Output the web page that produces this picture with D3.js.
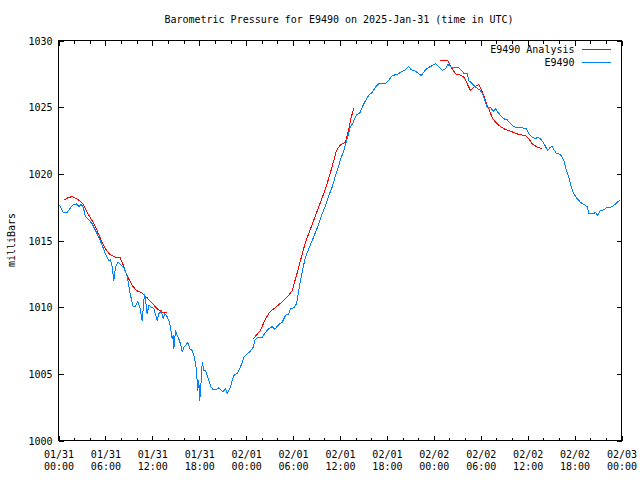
<!DOCTYPE html>
<html>
<head>
<meta charset="utf-8">
<script src="https://cdn.jsdelivr.net/npm/d3@7"></script>
<style>
  html, body { margin: 0; padding: 0; background: #fff; }
  svg { display: block; }
  text { font-family: "DejaVu Sans Mono", "Liberation Mono", monospace; font-size: 10px; fill: #000; }
</style>
</head>
<body>
<svg id="chart" width="640" height="480"></svg>
<script>
// ---- Data (hours since 2025-01-31 00:00 UTC, pressure in millibars) ----
const title = "Barometric Pressure for E9490 on 2025-Jan-31 (time in UTC)";
const yLabel = "milliBars";
const seriesNames = ["E9490 Analysis", "E9490"];
const yTicks = [1000, 1005, 1010, 1015, 1020, 1025, 1030];

const obsHours = [0.13,0.60,1.11,1.75,2.30,2.60,2.90,3.16,3.45,3.87,4.31,4.73,5.15,5.59,6.01,6.43,6.65,6.87,7.07,7.29,
  7.63,7.93,8.35,8.70,8.99,9.21,9.55,9.85,10.14,10.40,10.70,11.00,11.13,11.34,11.55,12.19,12.62,12.83,13.13,13.39,
  13.56,13.81,14.11,14.32,14.54,14.67,14.75,14.96,15.18,15.38,15.60,15.82,16.02,16.24,16.54,16.79,17.10,17.39,17.65,17.81,
  17.94,18.07,18.25,18.38,18.58,18.80,19.02,19.22,19.53,19.78,20.08,20.50,20.81,21.06,21.36,21.57,21.78,22.00,22.21,22.42,
  22.85,23.19,23.49,23.70,24.04,24.55,24.90,25.10,25.41,26.05,26.38,26.89,27.33,27.66,28.17,28.61,29.03,29.45,29.67,30.09,
  30.44,30.73,30.95,31.29,31.59,32.01,32.44,32.87,33.29,33.72,34.15,34.57,35.00,35.42,35.85,36.06,36.49,36.92,37.25,37.69,
  38.11,38.53,38.84,39.26,39.68,40.12,40.54,40.96,41.82,42.37,42.68,43.32,43.74,44.25,44.80,45.11,45.53,46.08,46.39,46.72,
  47.06,47.57,48.21,48.63,49.07,49.49,49.79,50.35,51.19,51.63,51.92,52.27,52.47,52.91,53.33,53.63,53.97,54.31,54.61,54.82,
  55.25,55.59,55.89,56.18,56.53,56.95,57.38,57.80,58.23,58.74,59.30,59.85,60.15,60.58,61.00,61.30,61.64,61.99,62.28,62.58,
  62.83,63.14,63.43,63.69,63.98,64.29,64.62,64.97,65.26,65.57,65.90,66.33,66.76,67.18,67.61,67.82,68.38,68.67,68.97,69.31,
  69.74,70.17,70.59,71.02,71.45,71.87];
const obsPressure = [1017.63,1017.12,1017.12,1017.63,1017.75,1017.55,1017.70,1017.50,1016.80,1016.55,1016.25,1015.75,1015.25,1014.63,1014.00,1013.50,1013.55,1013.00,1011.95,1013.00,
  1013.37,1013.20,1012.95,1012.50,1011.63,1010.88,1010.05,1010.05,1010.45,1010.00,1009.00,1011.00,1010.50,1009.50,1010.13,1009.88,1009.00,1009.50,1009.70,1009.13,
  1009.50,1009.38,1009.00,1008.50,1007.63,1007.88,1006.88,1008.25,1007.88,1007.63,1007.25,1006.62,1007.00,1007.13,1007.37,1006.88,1006.75,1006.25,1005.25,1003.75,
  1004.50,1003.00,1004.50,1005.87,1005.25,1005.25,1004.88,1004.50,1004.00,1003.80,1003.80,1003.95,1003.75,1003.67,1003.88,1003.50,1003.75,1004.00,1004.50,1004.88,
  1005.05,1005.38,1005.87,1006.25,1006.45,1006.70,1007.00,1007.50,1007.70,1007.70,1008.05,1008.38,1008.55,1008.33,1008.70,1008.87,1009.38,1009.50,1009.88,1009.95,
  1010.25,1011.25,1012.00,1013.00,1013.75,1014.38,1015.00,1015.62,1016.25,1017.00,1017.63,1018.38,1019.00,1019.88,1020.63,1021.05,1021.75,1022.63,1023.38,1023.87,
  1024.45,1024.55,1025.00,1025.50,1025.88,1026.12,1026.50,1026.75,1026.75,1027.13,1027.38,1027.45,1027.62,1027.75,1028.05,1027.80,1027.75,1027.50,1027.38,1027.62,
  1027.88,1028.05,1028.25,1028.05,1027.75,1027.88,1028.20,1027.95,1027.95,1027.71,1027.49,1027.53,1027.00,1026.75,1026.50,1026.38,1026.25,1025.88,1025.37,1025.00,
  1025.00,1024.70,1024.88,1024.62,1024.38,1024.13,1024.05,1023.75,1023.55,1023.45,1023.45,1023.38,1023.00,1022.75,1022.63,1022.75,1022.63,1022.37,1022.05,1021.75,
  1021.95,1022.05,1021.75,1021.50,1021.50,1021.38,1021.00,1020.25,1019.75,1019.00,1018.50,1018.13,1017.87,1017.70,1017.55,1017.00,1017.00,1017.12,1016.88,1017.25,
  1017.30,1017.50,1017.50,1017.63,1017.87,1018.05];

// Analysis series, three separate runs
const anaHours1 = [0.77,1.19,1.75,2.30,2.81,3.16,3.58,4.09,4.60,5.03,5.46,6.01,6.56,7.29,7.84,8.15,8.44,8.86,9.43,9.97,10.70,11.34,11.98,12.62,13.26,13.81];
const anaPress1 = [1018.05,1018.20,1018.30,1018.13,1017.95,1017.70,1017.20,1016.70,1016.20,1015.62,1015.00,1014.38,1013.95,1013.75,1013.75,1013.37,1012.88,1012.25,1011.63,1011.25,1011.05,1010.70,1010.30,1009.88,1009.63,1009.58];
const anaHours2 = [24.90,25.83,26.47,27.02,27.53,28.30,29.03,29.58,29.89,30.31,30.73,31.17,31.59,32.23,32.87,33.51,34.15,34.79,35.21,35.55,36.06,36.70,36.99,37.34,37.76];
const anaPress2 = [1007.63,1008.25,1009.13,1009.63,1009.88,1010.25,1010.63,1011.00,1011.25,1012.13,1013.00,1014.00,1014.87,1015.88,1016.88,1017.87,1018.88,1020.12,1021.00,1021.75,1022.18,1022.37,1023.00,1024.00,1024.95];
const anaHours3 = [48.76,49.79,50.22,50.77,51.50,51.92,52.27,52.69,53.11,53.75,54.06,54.39,54.74,55.16,55.47,55.89,56.31,56.95,57.80,58.44,58.87,59.72,60.15,60.58,61.22,61.86];
const anaPress3 = [1028.48,1028.48,1028.00,1027.50,1027.38,1027.20,1026.75,1026.25,1026.50,1026.70,1026.30,1025.88,1025.25,1024.70,1024.20,1023.87,1023.63,1023.38,1023.20,1023.05,1022.95,1022.88,1022.63,1022.25,1022.00,1021.88];

// ---- Layout ----
const L = 58, R = 621, T = 40, B = 440;
const t0 = Date.UTC(2025, 0, 31, 0);
const toDate = h => new Date(t0 + h * 3600e3);

const svg = d3.select("#chart");
const g = svg.append("g").attr("transform", "translate(0.5,0.5)");

const x = d3.scaleUtc().domain([toDate(0), toDate(72)]).range([L, R]);
const y = d3.scaleLinear().domain([1000, 1030]).range([B, T]);

const majorTicks = d3.range(0, 73, 6).map(toDate);
const minorTicks = d3.range(0, 73, 2).filter(h => h % 6 !== 0).map(toDate);
const fmtDate = d3.utcFormat("%m/%d");
const fmtTime = d3.utcFormat("%H:%M");

// Bottom axis (major, with labels)
const xb = g.append("g").attr("transform", `translate(0,${B})`)
  .call(d3.axisBottom(x).tickValues(majorTicks).tickSizeInner(-5).tickSizeOuter(0).tickPadding(0).tickFormat(d => ""));
xb.select(".domain").remove();
xb.selectAll(".tick text").each(function(d) {
  const t = d3.select(this).attr("y", 0).attr("dy", null);
  t.append("tspan").attr("x", 0).attr("y", 17).text(fmtDate(d));
  t.append("tspan").attr("x", 0).attr("y", 29).text(fmtTime(d));
});
// Bottom minor
const xbm = g.append("g").attr("transform", `translate(0,${B})`)
  .call(d3.axisBottom(x).tickValues(minorTicks).tickSizeInner(-3).tickSizeOuter(0).tickFormat(""));
xbm.select(".domain").remove();
// Top mirror
const xt = g.append("g").attr("transform", `translate(0,${T})`)
  .call(d3.axisTop(x).tickValues(majorTicks).tickSizeInner(-5).tickSizeOuter(0).tickFormat(""));
xt.select(".domain").remove();
const xtm = g.append("g").attr("transform", `translate(0,${T})`)
  .call(d3.axisTop(x).tickValues(minorTicks).tickSizeInner(-3).tickSizeOuter(0).tickFormat(""));
xtm.select(".domain").remove();

// Left axis
const yl = g.append("g").attr("transform", `translate(${L},0)`)
  .call(d3.axisLeft(y).tickValues(yTicks).tickSizeInner(-5).tickSizeOuter(0).tickPadding(6).tickFormat(d3.format("d")));
yl.select(".domain").remove();
yl.selectAll(".tick text").attr("dy", "0.35em");
// Right mirror
const yr = g.append("g").attr("transform", `translate(${R},0)`)
  .call(d3.axisRight(y).tickValues(yTicks).tickSizeInner(-5).tickSizeOuter(0).tickFormat(""));
yr.select(".domain").remove();

g.selectAll(".tick line").attr("stroke", "#000").attr("shape-rendering", "crispEdges");
g.selectAll(".tick text").attr("fill", "#000")
  .style("font-family", '"DejaVu Sans Mono", monospace').style("font-size", "10px");

// Frame
g.append("rect").attr("x", L).attr("y", T).attr("width", R - L).attr("height", B - T)
  .attr("fill", "none").attr("stroke", "#000").attr("shape-rendering", "crispEdges");

// Lines
const line = d3.line().x(d => x(toDate(d[0]))).y(d => y(d[1]));
const zip = (a, b) => a.map((v, i) => [v, b[i]]);

const plot = g.append("g");
[[anaHours1, anaPress1], [anaHours2, anaPress2], [anaHours3, anaPress3]].forEach(([h, p]) => {
  plot.append("path").datum(zip(h, p)).attr("d", line)
    .attr("fill", "none").attr("stroke", "#ff0000").attr("stroke-width", 1)
    .attr("shape-rendering", "crispEdges");
});
plot.append("path").datum(zip(obsHours, obsPressure)).attr("d", line)
  .attr("fill", "none").attr("stroke", "#0080ff").attr("stroke-width", 1)
  .attr("shape-rendering", "crispEdges");

// Legend
const legend = g.append("g");
const legColors = ["#ff0000", "#0080ff"];
seriesNames.forEach((name, i) => {
  const ly = 49 + i * 13;
  legend.append("text").attr("x", 574).attr("y", ly).attr("dy", "0.35em")
    .attr("text-anchor", "end").text(name);
  legend.append("line").attr("x1", 581).attr("x2", 610).attr("y1", ly).attr("y2", ly)
    .attr("stroke", legColors[i]).attr("shape-rendering", "crispEdges");
});

// Title and y label
svg.append("text").attr("x", 339).attr("y", 23).attr("text-anchor", "middle").text(title);
svg.append("text").attr("transform", "translate(15,240) rotate(-90)")
  .attr("text-anchor", "middle").text(yLabel);
</script>
</body>
</html>
